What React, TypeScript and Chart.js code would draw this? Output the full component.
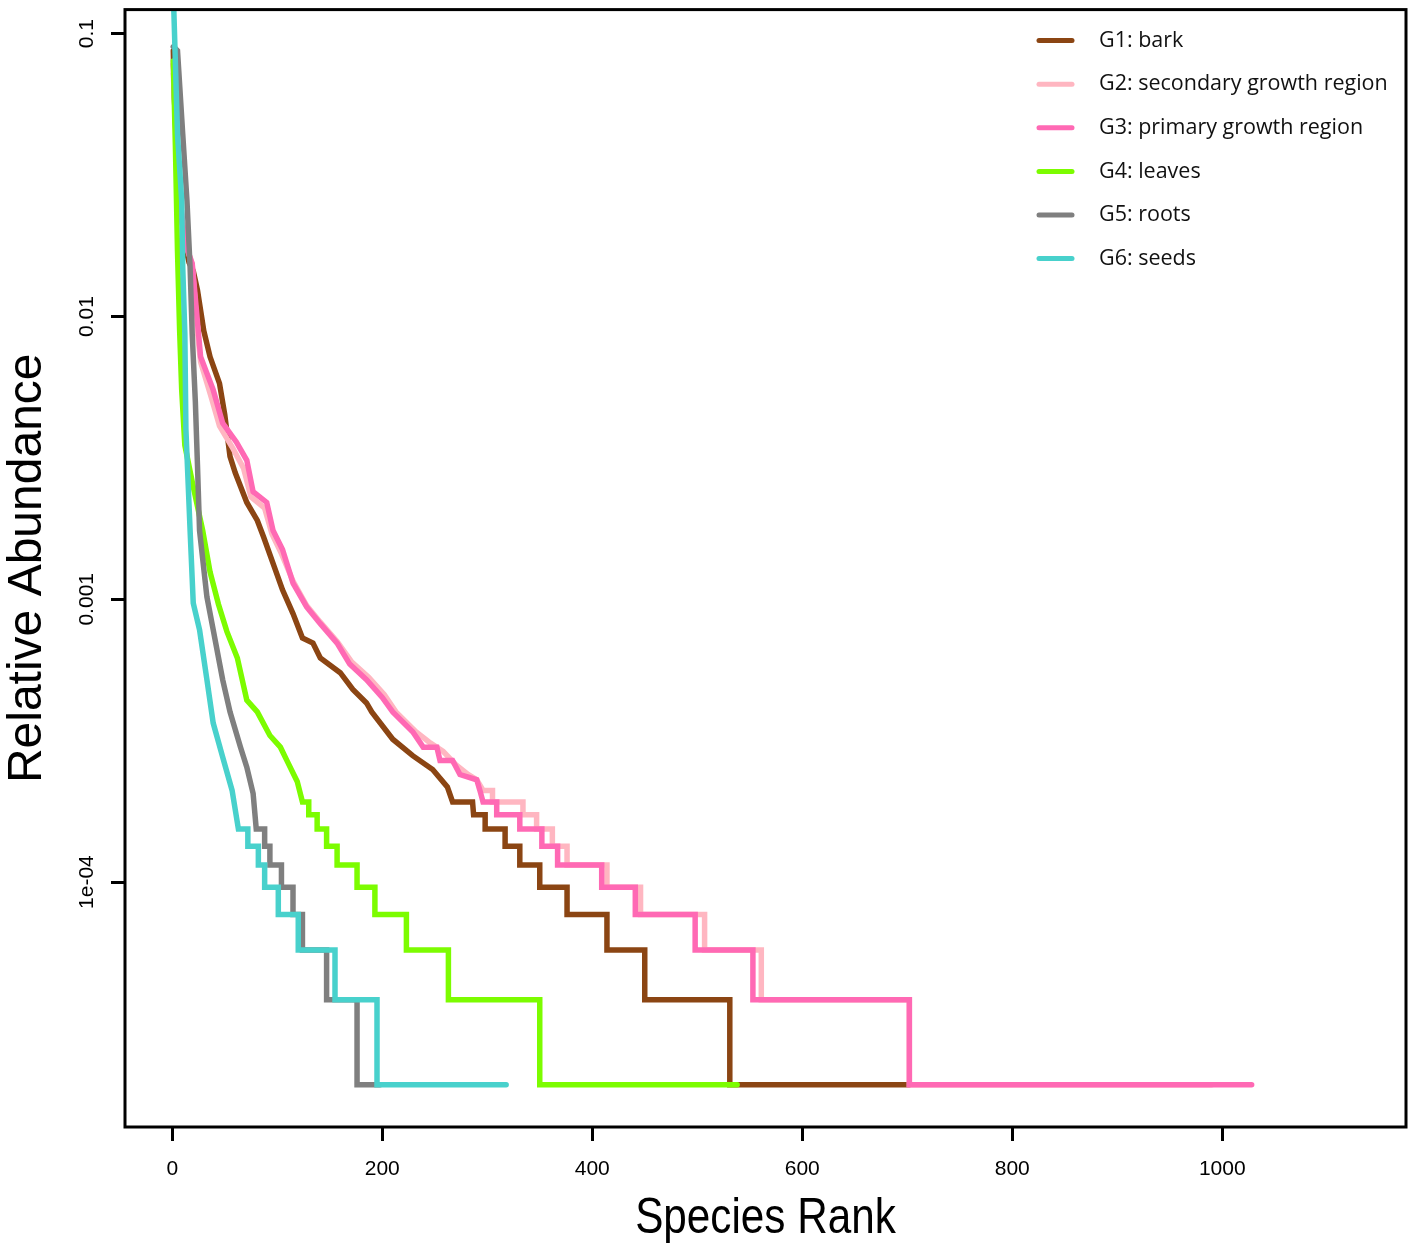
import { useEffect, useRef } from "react"
import { Chart, registerables } from "chart.js"

Chart.register(...registerables)

const groupNames = [
  "G1: bark",
  "G2: secondary growth region",
  "G3: primary growth region",
  "G4: leaves",
  "G5: roots",
  "G6: seeds",
]
const groupColors = ["#8B4513", "#FFB6C1", "#FF69B4", "#7CFC00", "#7F7F7F", "#48D1CC"]

// G1: bark
const g1Rank = [1, 2, 4, 7, 12, 16, 20, 24, 30, 36, 45, 50, 55, 60, 71, 81, 87, 96, 105, 115, 124, 134, 141, 160, 172, 185, 190, 210, 229, 248, 262,
  267, 286, 287, 298, 298, 317, 317, 331, 331, 350, 350, 376, 376, 414, 414, 450, 450, 531, 531, 702]
const g1Abund = [0.087, 0.06, 0.04, 0.026, 0.018, 0.0155, 0.0145, 0.0124, 0.0089, 0.0072, 0.0058, 0.0045, 0.0032, 0.0028, 0.0022, 0.0019, 0.00166, 0.00134, 0.00108, 0.00089, 0.00073, 0.0007, 0.00062, 0.00055, 0.00048, 0.00043, 0.0004, 0.00032, 0.00028, 0.00025, 0.000217,
  0.000192, 0.000192, 0.000173, 0.000173, 0.000154, 0.000154, 0.000134, 0.000134, 0.000115, 0.000115, 0.000096, 0.000096, 0.0000768, 0.0000768, 0.0000576, 0.0000576, 0.0000384, 0.0000384, 0.0000192, 0.0000192]

// G2: secondary growth region
const g2Rank = [1, 3, 6, 10, 15, 19, 24, 27, 37, 45, 58, 68, 75, 88, 95, 104, 115, 128, 141, 157, 171, 187, 202, 213, 232, 246, 258, 270, 282, 290, 296,
  305, 305, 334, 334, 347, 347, 362, 362, 376, 376, 414, 414, 446, 446, 507, 507, 561, 561, 702, 702, 990]
const g2Abund = [0.072, 0.05, 0.03, 0.021, 0.017, 0.0152, 0.0088, 0.0069, 0.0052, 0.0041, 0.0034, 0.0029, 0.0023, 0.0021, 0.0017, 0.00145, 0.00116, 0.00095, 0.00083, 0.00071, 0.0006, 0.00053, 0.00046, 0.0004, 0.00034, 0.00031, 0.00029, 0.00026, 0.00024, 0.00023, 0.000211,
  0.000211, 0.000192, 0.000192, 0.000173, 0.000173, 0.000154, 0.000154, 0.000134, 0.000134, 0.000115, 0.000115, 0.000096, 0.000096, 0.0000768, 0.0000768, 0.0000576, 0.0000576, 0.0000384, 0.0000384, 0.0000192, 0.0000192]

// G3: primary growth region
const g3Rank = [1, 3, 6, 10, 15, 19, 25, 27, 39, 48, 61, 71, 77, 90, 96, 105, 115, 128, 141, 157, 169, 185, 200, 210, 229, 239, 252, 255, 267, 274, 290, 293,
  296, 309, 309, 331, 331, 352, 352, 367, 367, 409, 409, 441, 441, 498, 498, 553, 553, 702, 702, 1028]
const g3Abund = [0.078, 0.05, 0.03, 0.021, 0.017, 0.0154, 0.0087, 0.0072, 0.0055, 0.0042, 0.0036, 0.0031, 0.0024, 0.0022, 0.00175, 0.0015, 0.00114, 0.00094, 0.00082, 0.0007, 0.00059, 0.00052, 0.00045, 0.0004, 0.00034, 0.0003, 0.0003, 0.000269, 0.000269, 0.00024, 0.00023, 0.000211,
  0.000192, 0.000192, 0.000173, 0.000173, 0.000154, 0.000154, 0.000134, 0.000134, 0.000115, 0.000115, 0.000096, 0.000096, 0.0000768, 0.0000768, 0.0000576, 0.0000576, 0.0000384, 0.0000384, 0.0000192, 0.0000192]

// G4: leaves
const g4Rank = [1, 3, 5, 7, 9, 12, 20, 29, 36, 44, 52, 62, 71, 81, 93, 103, 109, 119,
  124, 130, 130, 138, 138, 147, 147, 157, 157, 176, 176, 193, 193, 223, 223, 263, 263, 350, 350, 538]
const g4Abund = [0.08, 0.04, 0.017, 0.009, 0.0055, 0.0035, 0.0025, 0.00175, 0.00125, 0.00096, 0.00077, 0.00062, 0.00044, 0.0004, 0.00033, 0.0003, 0.00027, 0.000227,
  0.000192, 0.000192, 0.000173, 0.000173, 0.000154, 0.000154, 0.000134, 0.000134, 0.000115, 0.000115, 0.000096, 0.000096, 0.0000768, 0.0000768, 0.0000576, 0.0000576, 0.0000384, 0.0000384, 0.0000192, 0.0000192]

// G5: roots
const g5Rank = [1, 5, 6, 10, 14, 17, 19, 22, 24, 26, 33, 39, 48, 55, 65, 71, 77,
  80, 88, 88, 93, 93, 104, 104, 115, 115, 124, 124, 147, 147, 176, 176, 198]
const g5Abund = [0.09, 0.087, 0.076, 0.044, 0.0257, 0.0149, 0.0087, 0.005, 0.003, 0.00175, 0.00102, 0.00078, 0.00052, 0.0004, 0.0003, 0.000255, 0.000206,
  0.000154, 0.000154, 0.000134, 0.000134, 0.000115, 0.000115, 0.000096, 0.000096, 0.0000768, 0.0000768, 0.0000576, 0.0000576, 0.0000384, 0.0000384, 0.0000192, 0.0000192]

// G6: seeds
const g6Rank = [1, 5, 9, 10, 12, 13, 17, 20, 26, 33, 39, 48, 57,
  63, 72, 72, 82, 82, 88, 88, 101, 101, 120, 120, 155, 155, 195, 195, 318]
const g6Abund = [0.14, 0.044, 0.0257, 0.0149, 0.0087, 0.004, 0.00175, 0.00097, 0.00078, 0.00052, 0.000365, 0.000277, 0.000211,
  0.000154, 0.000154, 0.000134, 0.000134, 0.000115, 0.000115, 0.000096, 0.000096, 0.0000768, 0.0000768, 0.0000576, 0.0000576, 0.0000384, 0.0000384, 0.0000192, 0.0000192]

const groupRanks = [g1Rank, g2Rank, g3Rank, g4Rank, g5Rank, g6Rank]
const groupAbunds = [g1Abund, g2Abund, g3Abund, g4Abund, g5Abund, g6Abund]

const xTicks = [0, 200, 400, 600, 800, 1000]
const yTicks = [0.1, 0.01, 0.001, 0.0001]
const yTickLabels = ["0.1", "0.01", "0.001", "1e-04"]
const xTitle = "Species Rank"

// box around the plot, the narrow x title and the legend, like base R
const boxAndLegend = {
  id: "boxAndLegend",
  afterDraw(chart: any) {
    const { ctx, chartArea } = chart
    const { left, top, right, bottom } = chartArea
    ctx.save()
    ctx.strokeStyle = "#000"
    ctx.lineWidth = 3
    ctx.strokeRect(left, top, right - left, bottom - top)

    // condensed x axis title
    ctx.save()
    ctx.translate((left + right) / 2, bottom + 106)
    ctx.scale(0.845, 1)
    ctx.font = "50px 'Liberation Sans', Arial"
    ctx.textAlign = "center"
    ctx.textBaseline = "alphabetic"
    ctx.fillStyle = "#000"
    ctx.fillText(xTitle, 0, 0)
    ctx.restore()

    ctx.font = "21.5px 'Open Sans'"
    ctx.textBaseline = "middle"
    ctx.textAlign = "left"
    groupNames.forEach((name, i) => {
      const y = top + 31 + i * 43.6
      ctx.strokeStyle = groupColors[i]
      ctx.lineWidth = 5
      ctx.lineCap = "round"
      ctx.beginPath()
      ctx.moveTo(right - 367, y)
      ctx.lineTo(right - 334, y)
      ctx.stroke()
      ctx.fillStyle = "#111"
      ctx.fillText(name, right - 307, y)
    })
    ctx.restore()
  },
}

export default function App() {
  const chartRef = useRef<HTMLCanvasElement>(null)
  const chartInstance = useRef<Chart | null>(null)

  useEffect(() => {
    document.body.style.margin = "0"
    if (!chartRef.current) return
    if (chartInstance.current) chartInstance.current.destroy()

    const datasets = groupNames.map((name, i) => ({
      label: name,
      data: groupRanks[i].map((r, j) => ({ x: r, y: groupAbunds[i][j] })),
      borderColor: groupColors[i],
      backgroundColor: groupColors[i],
      borderWidth: 5.5,
      pointRadius: 0,
      tension: 0,
      fill: false,
      borderCapStyle: "round" as const,
      borderJoinStyle: "miter" as const,
      order: groupNames.length - i,
    }))

    chartInstance.current = new Chart(chartRef.current, {
      type: "line",
      data: { datasets },
      plugins: [boxAndLegend],
      options: {
        responsive: true,
        maintainAspectRatio: false,
        animation: false,
        layout: { padding: { top: 9, right: 11, left: 0, bottom: 0 } },
        plugins: {
          legend: { display: false },
          tooltip: { enabled: false },
        },
        scales: {
          x: {
            type: "linear",
            min: -45,
            max: 1175,
            afterBuildTicks: (scale: any) => {
              scale.ticks = xTicks.map((v) => ({ value: v }))
            },
            afterFit: (scale: any) => {
              scale.height = 125
            },
            ticks: {
              autoSkip: false,
              maxRotation: 0,
              padding: 16,
              color: "#000",
              font: { family: "'Liberation Sans', Arial", size: 21 },
              callback: (value: any) => String(value),
            },
            grid: {
              drawOnChartArea: false,
              drawTicks: true,
              tickLength: 14,
              tickWidth: 3,
              tickColor: "#000",
            },
            border: { display: false },
          },
          y: {
            type: "logarithmic",
            min: 1.362e-5,
            max: 0.1216,
            afterBuildTicks: (scale: any) => {
              scale.ticks = yTicks.map((v) => ({ value: v }))
            },
            afterFit: (scale: any) => {
              scale.width = 125
            },
            ticks: {
              minRotation: 90,
              maxRotation: 90,
              crossAlign: "center",
              padding: -3,
              color: "#000",
              font: { family: "'Liberation Sans', Arial", size: 21 },
              callback: (value: any) => {
                const idx = yTicks.findIndex((t) => Math.abs(t - Number(value)) / t < 1e-6)
                return idx >= 0 ? yTickLabels[idx] : ""
              },
            },
            grid: {
              drawOnChartArea: false,
              drawTicks: true,
              tickLength: 14,
              tickWidth: 3,
              tickColor: "#000",
            },
            border: { display: false },
            title: {
              display: true,
              text: "Relative Abundance",
              color: "#000",
              font: { family: "'Liberation Sans', Arial", size: 48, lineHeight: 1.15 },
              padding: { top: 0, bottom: 0 },
            },
          },
        },
      },
    })

    return () => {
      if (chartInstance.current) {
        chartInstance.current.destroy()
        chartInstance.current = null
      }
    }
  }, [])

  return (
    <div style={{ width: 1417, height: 1252, position: "relative", background: "#fff" }}>
      <canvas ref={chartRef} />
    </div>
  )
}
